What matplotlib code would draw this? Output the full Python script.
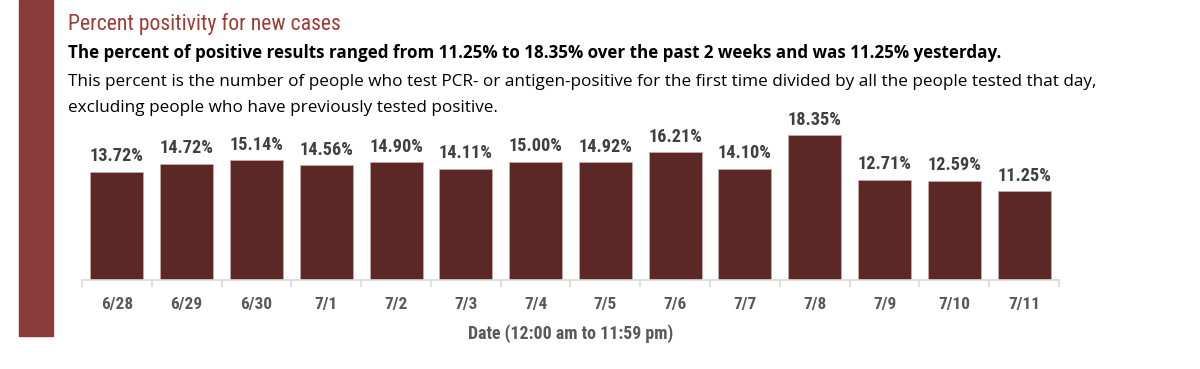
import matplotlib.pyplot as plt
from matplotlib.patches import Rectangle

# datos
fechas = ["6/28", "6/29", "6/30", "7/1", "7/2", "7/3", "7/4",
          "7/5", "7/6", "7/7", "7/8", "7/9", "7/10", "7/11"]
positividad = [13.72, 14.72, 15.14, 14.56, 14.90, 14.11, 15.00,
               14.92, 16.21, 14.10, 18.35, 12.71, 12.59, 11.25]

plt.rcParams['font.family'] = ['Roboto Condensed', 'Liberation Sans', 'DejaVu Sans']
PARRAFO = ['Open Sans', 'Liberation Sans', 'DejaVu Sans']

W, H = 1200, 369
fig = plt.figure(figsize=(12, 3.69), dpi=100)
rend = fig.canvas.get_renderer()


def ajustar(t, ancho):
    # escala el tamaño de letra para que el texto mida 'ancho' pixeles
    w = t.get_window_extent(rend).width
    t.set_fontsize(t.get_fontsize() * ancho / w)
    return t.get_fontsize()


# franja roja a la izquierda
fig.patches.append(Rectangle((19 / W, 1 - 336 / H), 34 / W, 336 / H,
                             transform=fig.transFigure, color="#8B3A3A", zorder=0))

# textos de cabecera
t = fig.text(68 / W, 1 - 30 / H, "Percent positivity for new cases", color="#9E3D37",
             fontsize=14, va="baseline")
ajustar(t, 276)
t = fig.text(68 / W, 1 - 58.5 / H,
             "The percent of positive results ranged from 11.25% to 18.35% over the past 2 weeks and was 11.25% yesterday.",
             fontsize=12, fontweight="bold", color="black", va="baseline", family=PARRAFO)
ajustar(t, 934)
t = fig.text(68 / W, 1 - 85.5 / H,
             "This percent is the number of people who test PCR- or antigen-positive for the first time divided by all the people tested that day,",
             fontsize=12, color="black", va="baseline", family=PARRAFO)
tam = ajustar(t, 1016)
fig.text(68 / W, 1 - 112.5 / H, "excluding people who have previously tested positive.",
         fontsize=tam, color="black", va="baseline", family=PARRAFO)

# grafico de barras
ax_top = 122
ax_bot = 280
ax = fig.add_axes([82 / W, 1 - ax_bot / H, (1059 - 82) / W, (ax_bot - ax_top) / H])
x = range(len(fechas))
ax.bar(x, positividad, width=0.76, color="#5C2825", edgecolor="#C9A9A6", linewidth=0.6)
ax.set_xlim(-0.5, len(fechas) - 0.5)
ax.set_ylim(0, 20)

etiquetas = []
for xi, v in zip(x, positividad):
    etiquetas.append(ax.annotate(f"{v:.2f}%", (xi, v), xytext=(0, 4.5), textcoords="offset points",
                                 ha="center", va="bottom", fontsize=13, fontweight="bold",
                                 color="#404040"))
tam_et = ajustar(etiquetas[0], 54)
for e in etiquetas:
    e.set_fontsize(tam_et)

ax.set_yticks([])
ax.set_xticks(list(x))
ax.set_xticklabels(fechas, fontsize=13, fontweight="bold", color="#595959")
ax.set_xticks([i + 0.5 for i in range(-1, len(fechas))], minor=True)
ax.tick_params(axis="x", which="major", length=0, pad=12)
ax.tick_params(axis="x", which="minor", length=5, color="#D9D9D9", width=1.2)
tam_tick = ajustar(ax.get_xticklabels()[0], 32)
for tl in ax.get_xticklabels():
    tl.set_fontsize(tam_tick)
for lado in ["top", "right", "left"]:
    ax.spines[lado].set_visible(False)
ax.spines["bottom"].set_color("#D9D9D9")
ax.spines["bottom"].set_linewidth(1.2)
ax.set_xlabel("Date (12:00 am to 11:59 pm)", fontsize=13, fontweight="bold",
              color="#595959", labelpad=9)
ajustar(ax.xaxis.label, 204)

plt.savefig("out.png", dpi=100)
